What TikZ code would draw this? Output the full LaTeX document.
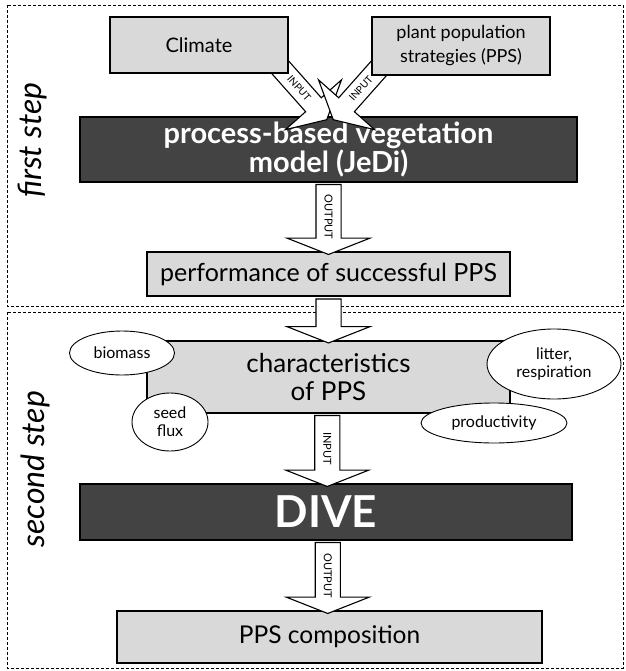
\documentclass[tikz,border=0pt]{standalone}
\usepackage{fontspec}
\setmainfont{Lato}
\usetikzlibrary{shapes.geometric, shapes.arrows, positioning, calc, backgrounds}
\definecolor{boxgray}{HTML}{D9D9D9}
\definecolor{modeldark}{HTML}{434343}

\begin{document}
\begin{tikzpicture}[x=1pt, y=-1pt,
    inbox/.style={rectangle, draw=black, line width=1.2pt, fill=boxgray, align=center, inner sep=2pt},
    modelbox/.style={rectangle, draw=black, line width=1.2pt, fill=modeldark, text=white, align=center, inner sep=2pt},
    attr/.style={ellipse, draw=black, line width=0.9pt, fill=white, align=center, inner sep=0pt, font=\fontsize{16}{18}\selectfont},
    flow/.style={single arrow, draw=black, line width=1.1pt, fill=white, inner xsep=0pt, inner ysep=8pt, text height=8pt, text depth=0pt, single arrow head extend=29pt, single arrow tip angle=137, font=\fontsize{11}{11}\selectfont},
    flowline/.style={draw=black, line width=1.1pt, fill=white, line join=miter},
    flowlabel/.style={inner sep=0pt, font=\fontsize{10}{11}\selectfont},
    stepframe/.style={draw=black, line width=0.8pt, dash pattern=on 3pt off 2pt},
    steplabel/.style={rotate=90, font=\itshape\fontsize{32}{32}\selectfont},
]
\useasboundingbox (0,0) rectangle (625,671);

% the two steps
\draw[stepframe] (7,5) rectangle (623,306);
\draw[stepframe] (7,312) rectangle (623,668);
\node[steplabel] (first) at (33,140) {first step};
\node[steplabel] (second) at (35,469) {second step};

% first step
\node[inbox, minimum width=178, minimum height=56, font=\fontsize{20}{24}\selectfont] (climate) at (199,45) {Climate};
\node[inbox, minimum width=178, minimum height=58, font=\fontsize{18}{24}\selectfont] (pps) at (461,46) {plant population\\strategies (PPS)};

\begin{scope}[on background layer]
\node[modelbox, minimum width=497, minimum height=65, font=\bfseries\fontsize{29}{24}\selectfont] (jedi) at (328.5,149.5) {process-based vegetation\\model (JeDi)};
\coordinate (climtail) at ($(climate.south east)+(-9,-7)$);
\coordinate (climtip) at ($(jedi.north)+(-2.5,2)$);
\coordinate (ppstail) at ($(pps.south west)+(9,-9)$);
\coordinate (ppstip) at ($(jedi.north)+(5.5,2)$);
% crossing input arrows
\begin{scope}[shift={(climtail)}, rotate=-48.4]
  \draw[flowline] (0,-10.5) -- (51,-10.5) -- (51,-37.5) -- (71,0) -- (51,37.5) -- (51,10.5) -- (0,10.5) -- cycle;
\end{scope}
\begin{scope}[shift={(ppstail)}, rotate=-131.6]
  \draw[flowline] (0,-10.5) -- (51,-10.5) -- (51,-37.5) -- (71,0) -- (51,37.5) -- (51,10.5) -- (0,10.5) -- cycle;
\end{scope}
\node[flowlabel, rotate=-48.4] (inclim) at ($(climtail)!0.42!(climtip)$) {INPUT};
\node[flowlabel, rotate=48.4] (inpps) at ($(ppstail)!0.42!(ppstip)$) {INPUT};
\end{scope}

\node[inbox, minimum width=363, minimum height=44, font=\fontsize{25}{28}\selectfont] (perf) at (328.5,274) {performance of successful PPS};
\node[flow, rotate=-90, minimum height=70] (outjedi) at ($(jedi.south)!0.5!(perf.north)$) {OUTPUT};

% second step
\node[inbox, minimum width=363, minimum height=72, font=\fontsize{26}{28}\selectfont] (charac) at (328.5,377) {characteristics\\of PPS};
\node[flow, rotate=-90, minimum height=44] (link) at ($(perf.south)!0.5!(charac.north)$) {};

\node[attr, minimum width=105, minimum height=44] (biomass) at (122,353) {biomass};
\node[attr, minimum width=76, minimum height=58] (seed) at (170,422) {seed\\flux};
\node[attr, minimum width=134, minimum height=70] (litter) at (554,364) {litter,\\respiration};
\node[attr, minimum width=146, minimum height=40] (prod) at (494,423) {productivity};

\node[modelbox, minimum width=492, minimum height=56, font=\bfseries\fontsize{44}{44}\selectfont] (dive) at (326,512) {DIVE};
\node[flow, rotate=-90, minimum height=71] (indive) at ($(charac.south)!0.5!(dive.north)$) {INPUT};

\node[inbox, minimum width=425, minimum height=52, font=\fontsize{24.5}{28}\selectfont] (comp) at (329.5,637) {PPS composition};
\node[flow, rotate=-90, minimum height=71] (outdive) at ($(dive.south)!0.5!(comp.north)$) {OUTPUT};

\end{tikzpicture}
\end{document}
